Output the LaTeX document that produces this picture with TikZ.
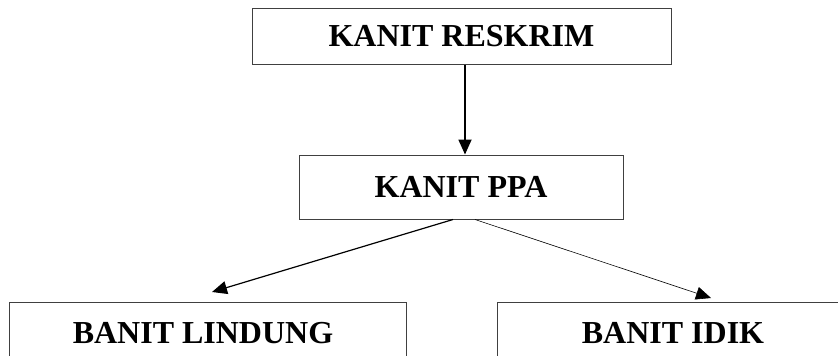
\documentclass[tikz,border=0pt]{standalone}
\usepackage{fontspec}
\setmainfont{Liberation Serif}
\usetikzlibrary{arrows.meta,calc}
\begin{document}
\begin{tikzpicture}[x=1pt,y=-1pt,
  orgbox/.style={draw=black!75, line width=1pt, fill=white, inner sep=0pt,
    font=\fontsize{32}{36}\selectfont\bfseries},
  label/.style={font=\fontsize{32}{36}\selectfont\bfseries},
  link/.style={-{Triangle[length=15pt,width=13pt]}, black}]
\clip (0,0) rectangle (838,356);
\fill[white] (0,0) rectangle (838,356);
\node[orgbox, minimum width=419pt, minimum height=56pt] (top) at (461.5,36) {KANIT RESKRIM};
\node[orgbox, minimum width=324pt, minimum height=64pt] (ppa) at (461,187) {KANIT PPA};
\node[orgbox, minimum width=397pt, minimum height=64pt] (lindung) at (207.5,334) {};
\node[orgbox, minimum width=352pt, minimum height=64pt] (idik) at (673,334) {};
\node[label] (tl) at (203,333) {BANIT LINDUNG};
\node[label] (ti) at (673,333) {BANIT IDIK};
\coordinate (vstart) at ($(top.south)+(3.5,0)$);
\coordinate (lstart) at ($(ppa.south)+(-8,0)$);
\coordinate (rstart) at ($(ppa.south)+(14,0)$);
\coordinate (ltip) at (212,292);
\coordinate (rtip) at (711,298);
\draw[link, line width=1.8pt] (vstart) -- (vstart |- ppa.north);
\draw[link, line width=1.2pt] (lstart) -- (ltip);
\draw[link, line width=0.6pt] (rstart) -- (rtip);
\end{tikzpicture}
\end{document}
